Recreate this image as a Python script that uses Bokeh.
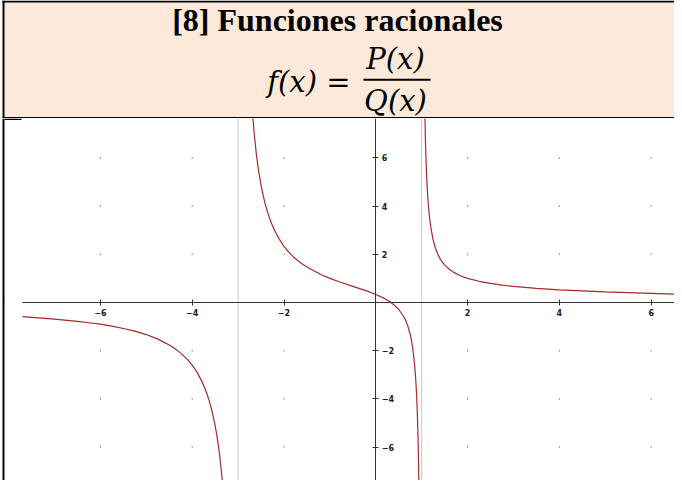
from bokeh.plotting import figure
from bokeh.models import Range1d, LinearAxis, FixedTicker, Span, BoxAnnotation, Label
from bokeh.layouts import column
from bokeh.embed import file_html
from bokeh.resources import INLINE

# ---------------- data ----------------
title_text = "[8] Funciones racionales"
formula_left = "f(x) ="
formula_num = "P(x)"
formula_den = "Q(x)"

asymptotes_x = [-3, 1]

x_ticks = [-6, -4, -2, 2, 4, 6]
x_tick_labels = ["−6", "−4", "−2", "2", "4", "6"]
y_ticks = [-6, -4, -2, 2, 4, 6]
y_tick_labels = ["−6", "−4", "−2", "2", "4", "6"]

# curve, three branches
branch1_x = [-7.7, -7.0, -6.5, -6.25, -6.0, -5.75, -5.5, -5.25, -5.0, -4.75, -4.5, -4.4,
             -4.25, -4.1, -4.0, -3.9, -3.8, -3.75, -3.7, -3.65, -3.6, -3.55, -3.5, -3.45,
             -3.4, -3.35, -3.3]
branch1_y = [-0.59, -0.69, -0.78, -0.84, -0.90, -0.98, -1.08, -1.19, -1.33, -1.52, -1.76, -1.88,
             -2.10, -2.37, -2.60, -2.88, -3.23, -3.44, -3.68, -3.95, -4.28, -4.66, -5.11, -5.67,
             -6.36, -7.26, -8.45]

branch2_x = [-2.72, -2.7, -2.65, -2.6, -2.55, -2.5, -2.45, -2.4, -2.35, -2.3, -2.25, -2.2,
             -2.1, -2.0, -1.9, -1.8, -1.65, -1.5, -1.2, -1.0, -0.8, -0.5, -0.2, 0.0, 0.2,
             0.3, 0.4, 0.5, 0.6, 0.65, 0.7, 0.75, 0.78, 0.8, 0.82, 0.85, 0.86, 0.87, 0.88,
             0.89, 0.9, 0.91, 0.92, 0.93, 0.94, 0.95]
branch2_y = [8.79, 8.20, 7.01, 6.11, 5.42, 4.86, 4.40, 4.02, 3.70, 3.42, 3.18, 2.97,
             2.62, 2.33, 2.10, 1.90, 1.66, 1.47, 1.16, 1.00, 0.86, 0.67, 0.48, 0.33, 0.16,
             0.04, -0.10, -0.29, -0.56, -0.74, -0.99, -1.33, -1.61, -1.84, -2.12, -2.68, -2.92,
             -3.20, -3.52, -3.90, -4.36, -4.92, -5.61, -6.51, -7.70, -9.37]

branch3_x = [1.06, 1.07, 1.08, 1.09, 1.1, 1.11, 1.12, 1.13, 1.15, 1.175, 1.2, 1.25, 1.3,
             1.35, 1.4, 1.45, 1.5, 1.6, 1.7, 1.8, 1.85, 2.0, 2.25, 2.5, 2.75, 3.0, 3.5,
             4.0, 4.5, 5.0, 5.5, 6.0, 6.5]
branch3_y = [8.95, 7.76, 6.86, 6.17, 5.61, 5.15, 4.77, 4.45, 3.94, 3.46, 3.10, 2.59, 2.25,
             2.00, 1.82, 1.67, 1.56, 1.38, 1.25, 1.15, 1.10, 1.00, 0.88, 0.79, 0.72, 0.67, 0.59,
             0.52, 0.48, 0.44, 0.41, 0.38, 0.35]

# ---------------- layout constants ----------------
W = 674
HDR_H = 118
G_H = 362
X0_PX, X_SCALE = 383.3, 45.9     # page px of x=0, px per unit
Y0_PX, Y_SCALE = 310.0, 24.1     # page px of y=0, px per unit


def px2x(px):
    return (px - X0_PX) / X_SCALE


def py2y(py):
    return (Y0_PX - py) / Y_SCALE


PEACH = "#FDE9D9"
CURVE = "#A52A2A"

# ---------------- header ----------------
hdr = figure(width=W, height=HDR_H, x_range=Range1d(0, W), y_range=Range1d(0, HDR_H),
             x_axis_type=None, y_axis_type=None, toolbar_location=None,
             output_backend="svg", min_border=0)
hdr.outline_line_color = None
hdr.background_fill_color = "white"
hdr.border_fill_color = "white"

hdr.add_layout(BoxAnnotation(left=4, right=W, bottom=1.5, top=116.2, fill_color=PEACH,
                             fill_alpha=1, line_color=None))
for l, r, b, t in [(2, W, 116.0, HDR_H), (2, 4, 0, HDR_H), (2, W, 0, 1.5)]:
    hdr.add_layout(BoxAnnotation(left=l, right=r, bottom=b, top=t, fill_color="black",
                                 fill_alpha=1, line_color=None))

hdr.add_layout(Label(x=337, y=99, text=title_text, text_font="Liberation Serif",
                     text_font_style="bold", text_font_size="32px", text_align="center",
                     text_baseline="alphabetic", text_color="black"))
hdr.add_layout(Label(x=350, y=37, text=formula_left, text_font="DejaVu Serif",
                     text_font_style="italic", text_font_size="29px", text_align="right",
                     text_baseline="alphabetic", text_color="black"))
hdr.add_layout(Label(x=395, y=60, text=formula_num, text_font="DejaVu Serif",
                     text_font_style="italic", text_font_size="29px", text_align="center",
                     text_baseline="alphabetic", text_color="black"))
hdr.add_layout(Label(x=395, y=18, text=formula_den, text_font="DejaVu Serif",
                     text_font_style="italic", text_font_size="29px", text_align="center",
                     text_baseline="alphabetic", text_color="black"))
hdr.add_layout(BoxAnnotation(left=363, right=430, bottom=37.8, top=39.8, fill_color="black",
                             fill_alpha=1, line_color=None))

# ---------------- graph ----------------
g = figure(width=W, height=G_H,
           x_range=Range1d(px2x(8), px2x(8 + W)),
           y_range=Range1d(py2y(126 + G_H), py2y(126)),
           x_axis_type=None, y_axis_type=None, toolbar_location=None,
           output_backend="svg", min_border=0)
g.outline_line_color = None
g.background_fill_color = "white"
g.border_fill_color = "white"

for ax in asymptotes_x:
    g.add_layout(Span(location=ax, dimension="height", line_color="#C8C8C8",
                      line_width=1, level="underlay"))

gx = [x for x in x_ticks for _ in y_ticks]
gy = [y for _ in x_ticks for y in y_ticks]
g.rect(gx, gy, width=1, height=2, width_units="screen", height_units="screen",
       fill_color="#999999", line_color=None)

axis_style = dict(axis_line_color="#333333", axis_line_width=1,
                  major_tick_line_color="#333333", major_tick_in=3, major_tick_out=3,
                  minor_tick_line_color=None,
                  major_label_text_font="DejaVu Sans", major_label_text_font_style="bold",
                  major_label_text_font_size="8px", major_label_text_color="#222222")

xa = LinearAxis(fixed_location=0, ticker=FixedTicker(ticks=x_ticks, minor_ticks=[]),
                major_label_overrides=dict(zip(x_ticks, x_tick_labels)),
                major_label_standoff=3, **axis_style)
g.add_layout(xa, "below")
ya = LinearAxis(fixed_location=0, ticker=FixedTicker(ticks=y_ticks, minor_ticks=[]),
                major_label_overrides=dict(zip(y_ticks, y_tick_labels)),
                major_label_standoff=3, **axis_style)
g.add_layout(ya, "right")

for bx, by in [(branch1_x, branch1_y), (branch2_x, branch2_y), (branch3_x, branch3_y)]:
    g.line(bx, by, line_color=CURVE, line_width=1.2)

# white margin left of the graph, left black border, short top tab
g.add_layout(BoxAnnotation(left=px2x(8), right=branch1_x[0], fill_color="white",
                           fill_alpha=1, line_color=None))
g.add_layout(BoxAnnotation(left=px2x(10), right=px2x(12), fill_color="black",
                           fill_alpha=1, line_color=None))
g.add_layout(BoxAnnotation(left=px2x(12), right=px2x(29), top=py2y(126), bottom=py2y(127.5),
                           fill_color="black", fill_alpha=1, line_color=None))

layout = column(hdr, g, spacing=0)
open("out.html", "w").write(file_html(layout, INLINE))
